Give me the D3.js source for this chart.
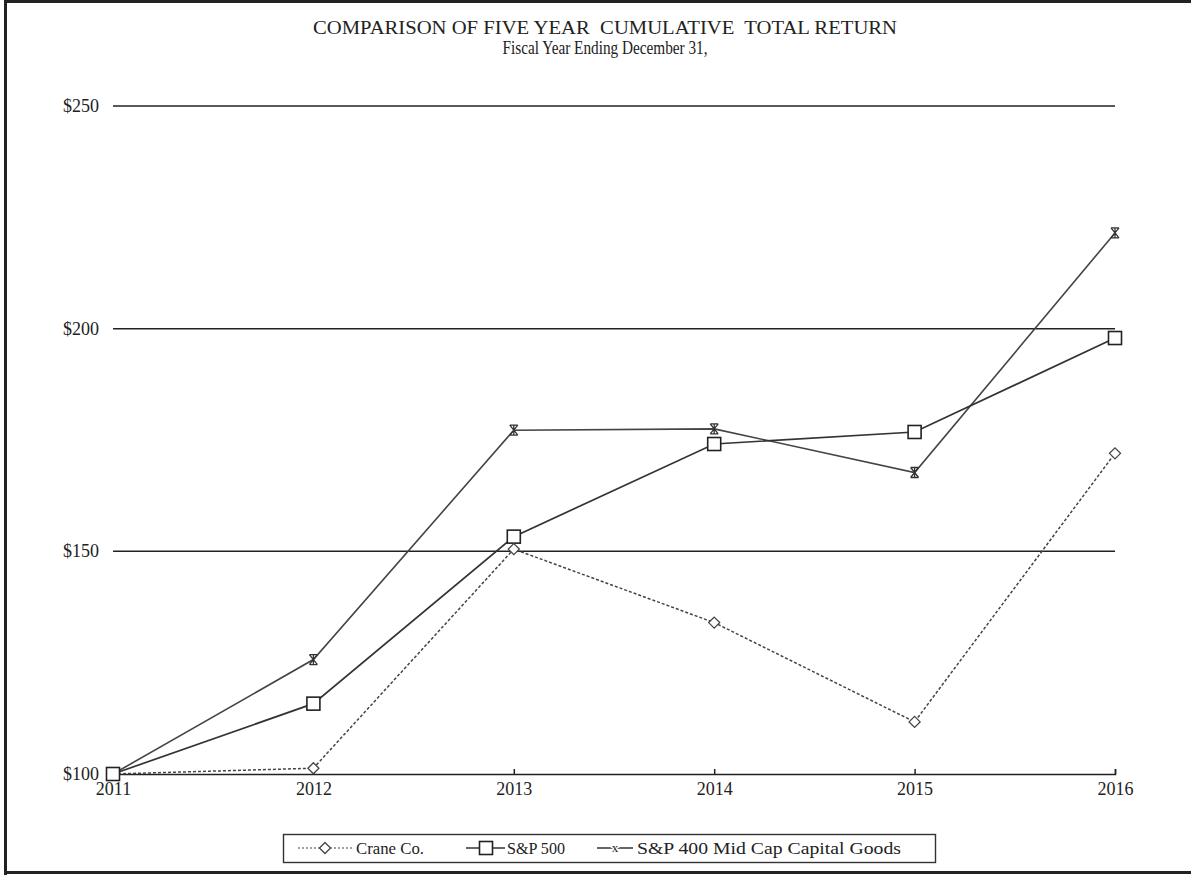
<!DOCTYPE html>
<html><head><meta charset="utf-8">
<script src="https://cdn.jsdelivr.net/npm/d3@7"></script>
<style>body{margin:0;background:#fff}svg{display:block}text{font-family:"Liberation Serif","DejaVu Serif",serif;fill:#222;white-space:pre}</style>
</head><body><svg id="c" width="1191" height="875"></svg>
<script>
const years = [2011, 2012, 2013, 2014, 2015, 2016];
const crane = [100, 101.3, 150.5, 134.0, 111.7, 172.0];
const sp500 = [100, 115.8, 153.3, 174.1, 176.8, 197.9];
const midcap = [100, 125.7, 177.2, 177.5, 167.7, 221.5];
const yTicks = [100, 150, 200, 250];
const seriesNames = ["Crane Co.", "S&P 500", "S&P 400 Mid Cap Capital Goods"];

const svg = d3.select("#c");
// frame
svg.append("path").attr("d","M5.5,880 V1.5 H1195 M5.5,872.5 H1195").attr("fill","none").attr("stroke","#222").attr("stroke-width",3);

const x = d3.scalePoint().domain(years).range([113, 1115]);
const y = d3.scaleLinear().domain([100, 250]).range([774, 106]);

svg.append("text").attr("x",605).attr("y",34).attr("text-anchor","middle").attr("font-size",19)
  .attr("textLength",584).attr("lengthAdjust","spacingAndGlyphs").text("COMPARISON OF FIVE YEAR  CUMULATIVE  TOTAL RETURN");
svg.append("text").attr("x",605).attr("y",54).attr("text-anchor","middle").attr("font-size",18)
  .attr("textLength",205).attr("lengthAdjust","spacingAndGlyphs").text("Fiscal Year Ending December 31,");

// gridlines
svg.append("g").selectAll("line").data(yTicks.filter(d=>d>100)).join("line")
  .attr("x1",113).attr("x2",1115).attr("y1",d=>y(d)).attr("y2",d=>y(d)).attr("stroke","#222").attr("stroke-width",1.5);
// y labels
svg.append("g").selectAll("text").data(yTicks).join("text")
  .attr("x",99).attr("y",d=>y(d)+6).attr("text-anchor","end").attr("font-size",18).text(d=>"$"+d);

// x axis
const xa = svg.append("g").attr("transform","translate(0,774)")
  .call(d3.axisBottom(x).tickSize(-5).tickPadding(8).tickFormat(d=>d));
xa.select(".domain").attr("stroke","#222").attr("stroke-width",1.5);
xa.selectAll(".tick line").attr("stroke","#222").attr("stroke-width",1.5);
xa.selectAll("text").attr("font-size",18).attr("font-family","Liberation Serif").attr("fill","#222");

const line = d3.line().x((d,i)=>x(years[i])).y(d=>y(d));
svg.append("path").datum(midcap).attr("d",line).attr("fill","none").attr("stroke","#444").attr("stroke-width",1.6);
svg.append("path").datum(sp500).attr("d",line).attr("fill","none").attr("stroke","#333").attr("stroke-width",1.7);
svg.append("path").datum(crane).attr("d",line).attr("fill","none").attr("stroke","#444").attr("stroke-width",1.5).attr("stroke-dasharray","3,2");

function diamond(g, cx, cy){ g.append("path").attr("d",`M${cx},${cy-5.5} L${cx+5.5},${cy} L${cx},${cy+5.5} L${cx-5.5},${cy} Z`).attr("fill","#fff").attr("stroke","#444").attr("stroke-width",1.3); }
function square(g, cx, cy){ g.append("rect").attr("x",cx-6.5).attr("y",cy-6.5).attr("width",13).attr("height",13).attr("fill","#fff").attr("stroke","#222").attr("stroke-width",1.6); }
function star(g, cx, cy){ g.append("path").attr("d",`M${cx-4},${cy-5} L${cx+4},${cy+5} M${cx+4},${cy-5} L${cx-4},${cy+5} M${cx-4},${cy-5} H${cx+4} M${cx-4},${cy+5} H${cx+4} M${cx},${cy-5} V${cy+5}`).attr("fill","none").attr("stroke","#333").attr("stroke-width",1.3); }

const mg = svg.append("g");
midcap.forEach((v,i)=>star(mg, x(years[i]), y(v)));
sp500.forEach((v,i)=>square(mg, x(years[i]), y(v)));
crane.forEach((v,i)=>{ if(i>0) diamond(mg, x(years[i]), y(v)); });

// legend
const lg = svg.append("g");
lg.append("rect").attr("x",283.5).attr("y",834.5).attr("width",652).attr("height",28).attr("fill","#fff").attr("stroke","#333").attr("stroke-width",1.4);
const ly = 848;
lg.append("line").attr("x1",298).attr("x2",352).attr("y1",ly).attr("y2",ly).attr("stroke","#444").attr("stroke-width",1.2).attr("stroke-dasharray","2,2");
diamond(lg, 325, ly);
lg.append("text").attr("x",356).attr("y",ly+5.5).attr("font-size",17.5).attr("textLength",68).attr("lengthAdjust","spacingAndGlyphs").text(seriesNames[0]);
lg.append("line").attr("x1",466).attr("x2",505).attr("y1",ly).attr("y2",ly).attr("stroke","#333").attr("stroke-width",1.4);
square(lg, 486, ly);
lg.append("text").attr("x",507).attr("y",ly+5.5).attr("font-size",17.5).attr("textLength",58).attr("lengthAdjust","spacingAndGlyphs").text(seriesNames[1]);
lg.append("line").attr("x1",597).attr("x2",633).attr("y1",ly).attr("y2",ly).attr("stroke","#333").attr("stroke-width",1.4);
lg.append("text").attr("x",615).attr("y",ly+4).attr("text-anchor","middle").attr("font-size",13).style("paint-order","stroke").attr("stroke","#fff").attr("stroke-width",3).text("x");
lg.append("text").attr("x",637).attr("y",ly+5.5).attr("font-size",17.5).attr("textLength",264).attr("lengthAdjust","spacingAndGlyphs").text(seriesNames[2]);
</script></body></html>
